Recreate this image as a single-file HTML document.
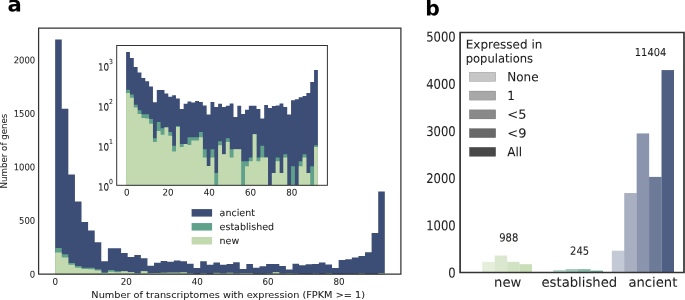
<!DOCTYPE html>
<html><head><meta charset="utf-8"><title>figure</title>
<style>html,body{margin:0;padding:0;background:#fff}svg{display:block}text{stroke:#1c1c1c;stroke-width:0.06px}text.pl{stroke:none}</style></head>
<body>
<svg width="685" height="300" viewBox="0 0 685 300" font-family="DejaVu Sans, Liberation Sans, sans-serif" fill="#1c1c1c">
<rect width="685" height="300" fill="#fff"/>
<path d="M55.15,274.20V39.50H61.74V108.70H68.34V174.50H74.93V201.60H81.52V222.10H88.12V230.50H94.71V242.20H101.30V261.30H107.89V248.25H114.49V248.25H121.08V253.08H127.67V256.96H134.27V255.07H140.86V258.28H147.45V265.85H154.05V262.63H160.64V260.89H167.23V261.66H173.82V260.49H180.42V261.22H187.01V263.73H193.60V268.11H200.20V261.22H206.79V264.87H213.38V262.58H219.98V264.67H226.57V264.00H233.16V262.36H239.75V269.09H246.35V264.00H252.94V267.84H259.53V266.22H266.13V264.00H272.72V264.00H279.31V266.05H285.91V269.61H292.50V263.63H299.09V265.29H305.68V264.29H312.28V263.88H318.87V262.51H325.46V264.52H332.06V268.11H338.65V260.06H345.24V259.24H351.84V257.41H358.43V256.00H365.02V252.28H371.61V233.12H378.21V191.59H384.80V274.20Z" fill="#3c4d76"/>
<path d="M55.15,274.20V248.06H61.74V254.37H68.34V263.11H74.93V266.12H81.52V267.78H88.12V267.78H94.71V269.33H101.30V272.60H107.89V270.10H114.49V271.33H121.08V271.13H127.67V271.91H134.27V273.15H140.86V270.97H147.45V273.04H154.05V273.04H160.64V272.50H167.23V272.50H173.82V272.50H180.42V271.90H187.01V273.35H193.60V273.88H200.20V273.35H206.79V273.98H213.38V272.85H219.98V273.56H226.57V272.60H233.16V273.35H239.75V273.35H246.35V273.35H252.94V273.77H259.53V273.77H266.13V273.67H272.72V272.14H279.31V273.67H285.91V273.15H292.50V273.67H299.09V274.20H305.68V273.98H312.28V273.67H318.87V273.98H325.46V273.56H332.06V274.20H338.65V273.88H345.24V274.20H351.84V273.77H358.43V273.56H365.02V273.98H371.61V273.88H378.21V273.12H384.80V274.20Z" fill="#5fa18b"/>
<path d="M55.15,274.20V252.46H61.74V257.61H68.34V264.82H74.93V267.67H81.52V269.01H88.12V269.22H94.71V270.49H101.30V272.90H107.89V271.76H114.49V272.23H121.08V271.23H127.67V272.35H134.27V273.45H140.86V271.13H147.45V273.23H154.05V273.04H160.64V273.10H167.23V272.79H173.82V272.79H180.42V272.50H187.01V273.67H193.60V273.88H200.20V273.67H206.79V274.20H213.38V273.12H219.98V273.56H226.57V272.90H233.16V273.67H239.75V273.35H246.35V273.35H252.94V274.20H259.53V273.88H266.13V273.77H272.72V272.17H279.31V273.77H285.91V273.67H292.50V273.67H299.09V274.20H305.68V273.98H312.28V273.77H318.87V273.98H325.46V273.67H332.06V274.20H338.65V274.20H345.24V274.20H351.84V273.88H358.43V273.67H365.02V273.98H371.61V274.20H378.21V273.23H384.80V274.20Z" fill="#c3d9af"/>
<path d="M38.6,28.05H400.9V274.2H38.6Z" fill="none" stroke="#333" stroke-width="1.25"/>
<rect x="116.7" y="45.5" width="210.7" height="139.8" fill="#fff"/>
<path d="M126.10,185.30V52.00H129.94V58.00H133.77V66.90H137.61V72.40H141.44V77.90H145.28V81.30H149.12V86.40H152.95V102.20H156.79V90.10H160.62V90.10H164.46V93.40H168.30V96.70H172.13V95.20H175.97V98.40H179.80V109.10H183.64V103.70H187.48V101.50H191.31V102.50H195.15V101.00H198.98V102.00H202.82V105.40H206.66V114.60H210.49V102.00H214.33V106.90H218.16V103.70H222.00V106.90H225.84V105.80H229.67V103.50H233.51V117.10H237.34V105.80H241.18V113.90H245.02V109.80H248.85V105.80H252.69V105.80H256.52V109.10H260.36V118.60H264.20V105.10H268.03V107.90H271.87V106.10H275.70V105.40H279.54V103.50H283.38V106.90H287.21V114.60H291.05V100.30H294.88V99.20H298.72V97.20H302.56V95.90H306.39V93.00H310.23V82.00H314.06V70.00H317.90V185.30Z" fill="#3c4d76"/>
<path d="M126.10,185.30V89.80H129.94V94.60H133.77V104.70H137.61V110.20H141.44V114.20H145.28V114.20H149.12V119.00H152.95V138.30H156.79V122.00H160.62V128.20H164.46V127.00H168.30V132.10H172.13V145.70H175.97V126.10H179.80V143.90H183.64V143.90H187.48V137.30H191.31V137.30H195.15V137.30H198.98V132.00H202.82V149.30H206.66V166.10H210.49V149.30H214.33V173.10H218.16V141.30H222.00V154.30H225.84V138.30H229.67V149.30H233.51V149.30H237.34V149.30H241.18V161.20H245.02V161.20H248.85V157.60H252.69V133.90H256.52V157.60H260.36V145.70H264.20V157.60H268.03V185.30H271.87V173.10H275.70V157.60H279.54V173.10H283.38V154.30H287.21V185.30H291.05V166.20H294.88V185.30H298.72V161.20H302.56V154.30H306.39V173.10H310.23V166.20H314.06V145.20H317.90V185.30Z" fill="#5fa18b"/>
<path d="M126.10,185.30V93.00H129.94V97.70H133.77V107.60H137.61V113.90H141.44V117.90H145.28V118.60H149.12V123.70H152.95V142.00H156.79V131.00H160.62V134.70H164.46V127.60H168.30V135.80H172.13V151.50H175.97V127.00H179.80V147.10H183.64V143.90H187.48V144.90H191.31V140.50H195.15V140.50H198.98V137.30H202.82V157.40H206.66V166.10H210.49V157.40H214.33V185.30H218.16V145.20H222.00V154.30H225.84V142.00H229.67V157.40H233.51V149.30H237.34V149.30H241.18V185.30H245.02V166.20H248.85V161.20H252.69V134.20H256.52V161.20H260.36V157.60H264.20V157.60H268.03V185.30H271.87V173.10H275.70V161.20H279.54V173.10H283.38V157.60H287.21V185.30H291.05V185.30H294.88V185.30H298.72V166.20H302.56V157.60H306.39V173.10H310.23V185.30H314.06V147.10H317.90V185.30Z" fill="#c3d9af"/>
<rect x="116.7" y="45.5" width="210.7" height="139.8" fill="none" stroke="#333" stroke-width="1"/>
<text transform="matrix(0.920,0.0005,0,1,35.20,277.40)" font-size="9.2" text-anchor="end">0</text>
<text transform="matrix(0.920,0.0005,0,1,35.20,223.85)" font-size="9.2" text-anchor="end">500</text>
<text transform="matrix(0.920,0.0005,0,1,35.20,170.30)" font-size="9.2" text-anchor="end">1000</text>
<text transform="matrix(0.920,0.0005,0,1,35.20,116.75)" font-size="9.2" text-anchor="end">1500</text>
<text transform="matrix(0.920,0.0005,0,1,35.20,63.20)" font-size="9.2" text-anchor="end">2000</text>
<text transform="matrix(0.950,0.0005,0,1,55.35,284.80)" font-size="9.2" text-anchor="middle">0</text>
<text transform="matrix(0.950,0.0005,0,1,126.27,284.80)" font-size="9.2" text-anchor="middle">20</text>
<text transform="matrix(0.950,0.0005,0,1,197.19,284.80)" font-size="9.2" text-anchor="middle">40</text>
<text transform="matrix(0.950,0.0005,0,1,268.11,284.80)" font-size="9.2" text-anchor="middle">60</text>
<text transform="matrix(0.950,0.0005,0,1,339.03,284.80)" font-size="9.2" text-anchor="middle">80</text>
<text transform="matrix(1.110,0.0005,0,1,91.35,298.00)" font-size="8.8" text-anchor="start">Number of transcriptomes with expression (FPKM &gt;= 1)</text>
<text transform="translate(7.4,188.4) rotate(-90)" font-size="8.66">Number of genes</text>
<text transform="matrix(0.885,0.0005,0,1,109.20,190.40)" font-size="10.0" text-anchor="end">10</text>
<text transform="matrix(0.880,0.0005,0,1,109.00,183.90)" font-size="7.0" text-anchor="start">0</text>
<text transform="matrix(0.885,0.0005,0,1,109.20,150.40)" font-size="10.0" text-anchor="end">10</text>
<text transform="matrix(0.880,0.0005,0,1,109.00,143.90)" font-size="7.0" text-anchor="start">1</text>
<text transform="matrix(0.885,0.0005,0,1,109.20,110.40)" font-size="10.0" text-anchor="end">10</text>
<text transform="matrix(0.880,0.0005,0,1,109.00,103.90)" font-size="7.0" text-anchor="start">2</text>
<text transform="matrix(0.885,0.0005,0,1,109.20,70.40)" font-size="10.0" text-anchor="end">10</text>
<text transform="matrix(0.880,0.0005,0,1,109.00,63.90)" font-size="7.0" text-anchor="start">3</text>
<text transform="matrix(0.950,0.0005,0,1,126.70,195.40)" font-size="9.2" text-anchor="middle">0</text>
<text transform="matrix(0.950,0.0005,0,1,167.95,195.40)" font-size="9.2" text-anchor="middle">20</text>
<text transform="matrix(0.950,0.0005,0,1,209.20,195.40)" font-size="9.2" text-anchor="middle">40</text>
<text transform="matrix(0.950,0.0005,0,1,250.45,195.40)" font-size="9.2" text-anchor="middle">60</text>
<text transform="matrix(0.950,0.0005,0,1,291.70,195.40)" font-size="9.2" text-anchor="middle">80</text>
<rect x="191.6" y="209.10" width="20.5" height="7.5" fill="#3c4d76"/>
<text transform="matrix(1.000,0.0005,0,1,219.60,216.10)" font-size="9.5" text-anchor="start">ancient</text>
<rect x="191.6" y="223.05" width="20.5" height="7.5" fill="#5fa18b"/>
<text transform="matrix(1.000,0.0005,0,1,219.60,230.05)" font-size="9.5" text-anchor="start">established</text>
<rect x="191.6" y="237.00" width="20.5" height="7.5" fill="#c3d9af"/>
<text transform="matrix(1.000,0.0005,0,1,219.60,244.00)" font-size="9.5" text-anchor="start">new</text>
<text transform="matrix(1.000,0.0005,0,1,7.50,11.40)" font-size="21.2" text-anchor="start" font-weight="bold" fill="#000" class="pl">a</text>
<text transform="matrix(0.967,0.0005,0,1,425.30,15.40)" font-size="21.0" text-anchor="start" font-weight="bold" fill="#000" class="pl">b</text>
<rect x="482.23" y="261.84" width="12.48" height="10.56" fill="#c3d9af" fill-opacity="0.45"/>
<rect x="494.66" y="255.56" width="12.48" height="16.84" fill="#c3d9af" fill-opacity="0.6"/>
<rect x="507.09" y="261.84" width="12.48" height="10.56" fill="#c3d9af" fill-opacity="0.75"/>
<rect x="519.52" y="264.24" width="12.48" height="8.16" fill="#c3d9af" fill-opacity="0.9"/>
<rect x="553.23" y="270.04" width="12.48" height="2.36" fill="#5fa18b" fill-opacity="0.45"/>
<rect x="565.66" y="269.10" width="12.48" height="3.30" fill="#5fa18b" fill-opacity="0.6"/>
<rect x="578.09" y="269.10" width="12.48" height="3.30" fill="#5fa18b" fill-opacity="0.75"/>
<rect x="590.52" y="270.61" width="12.48" height="1.79" fill="#5fa18b" fill-opacity="0.9"/>
<rect x="611.80" y="250.71" width="12.48" height="21.69" fill="#3c4d76" fill-opacity="0.3"/>
<rect x="624.23" y="193.03" width="12.48" height="79.37" fill="#3c4d76" fill-opacity="0.45"/>
<rect x="636.66" y="133.42" width="12.48" height="138.98" fill="#3c4d76" fill-opacity="0.6"/>
<rect x="649.09" y="176.90" width="12.48" height="95.50" fill="#3c4d76" fill-opacity="0.75"/>
<rect x="661.52" y="70.08" width="12.48" height="202.32" fill="#3c4d76" fill-opacity="0.9"/>
<path d="M684.0,32.5H460.1V272.5H684.0Z" fill="none" stroke="#333" stroke-width="1.7"/>
<text transform="matrix(0.866,0.0005,0,1,455.70,277.40)" font-size="13.4" text-anchor="end">0</text>
<text transform="matrix(0.866,0.0005,0,1,455.70,230.24)" font-size="13.4" text-anchor="end">1000</text>
<text transform="matrix(0.866,0.0005,0,1,455.70,183.08)" font-size="13.4" text-anchor="end">2000</text>
<text transform="matrix(0.866,0.0005,0,1,455.70,135.92)" font-size="13.4" text-anchor="end">3000</text>
<text transform="matrix(0.866,0.0005,0,1,455.70,88.76)" font-size="13.4" text-anchor="end">4000</text>
<text transform="matrix(0.866,0.0005,0,1,455.70,41.60)" font-size="13.4" text-anchor="end">5000</text>
<text transform="matrix(1.000,0.0005,0,1,507.70,286.70)" font-size="13.2" text-anchor="middle">new</text>
<text transform="matrix(1.000,0.0005,0,1,579.30,286.70)" font-size="13.2" text-anchor="middle">established</text>
<text transform="matrix(1.000,0.0005,0,1,652.90,286.70)" font-size="13.2" text-anchor="middle">ancient</text>
<text transform="matrix(0.885,0.0005,0,1,508.80,241.40)" font-size="11.3" text-anchor="middle">988</text>
<text transform="matrix(0.885,0.0005,0,1,579.60,254.80)" font-size="11.3" text-anchor="middle">245</text>
<text transform="matrix(0.908,0.0005,0,1,650.55,56.00)" font-size="10.9" text-anchor="middle">11404</text>
<text transform="matrix(1.000,0.0005,0,1,465.75,48.50)" font-size="12" text-anchor="start">Expressed in</text>
<text transform="matrix(0.960,0.0005,0,1,465.75,62.40)" font-size="12" text-anchor="start">populations</text>
<rect x="469.4" y="72.30" width="26.3" height="9.1" fill="#c6c6c6" stroke="#000" stroke-opacity="0.3" stroke-width="0.5"/>
<text transform="matrix(0.952,0.0005,0,1,507.30,81.30)" font-size="12.6" text-anchor="start">None</text>
<rect x="469.4" y="91.05" width="26.3" height="9.1" fill="#a8a8a8" stroke="#000" stroke-opacity="0.3" stroke-width="0.5"/>
<text transform="matrix(0.952,0.0005,0,1,507.30,100.05)" font-size="12.6" text-anchor="start">1</text>
<rect x="469.4" y="109.80" width="26.3" height="9.1" fill="#898989" stroke="#000" stroke-opacity="0.3" stroke-width="0.5"/>
<text transform="matrix(1.030,0.0005,0,1,507.30,118.80)" font-size="12.6" text-anchor="start">&lt;5</text>
<rect x="469.4" y="128.55" width="26.3" height="9.1" fill="#686868" stroke="#000" stroke-opacity="0.3" stroke-width="0.5"/>
<text transform="matrix(1.030,0.0005,0,1,507.30,137.55)" font-size="12.6" text-anchor="start">&lt;9</text>
<rect x="469.4" y="147.30" width="26.3" height="9.1" fill="#484848" stroke="#000" stroke-opacity="0.3" stroke-width="0.5"/>
<text transform="matrix(0.952,0.0005,0,1,507.30,156.30)" font-size="12.6" text-anchor="start">All</text>
</svg>
</body></html>
